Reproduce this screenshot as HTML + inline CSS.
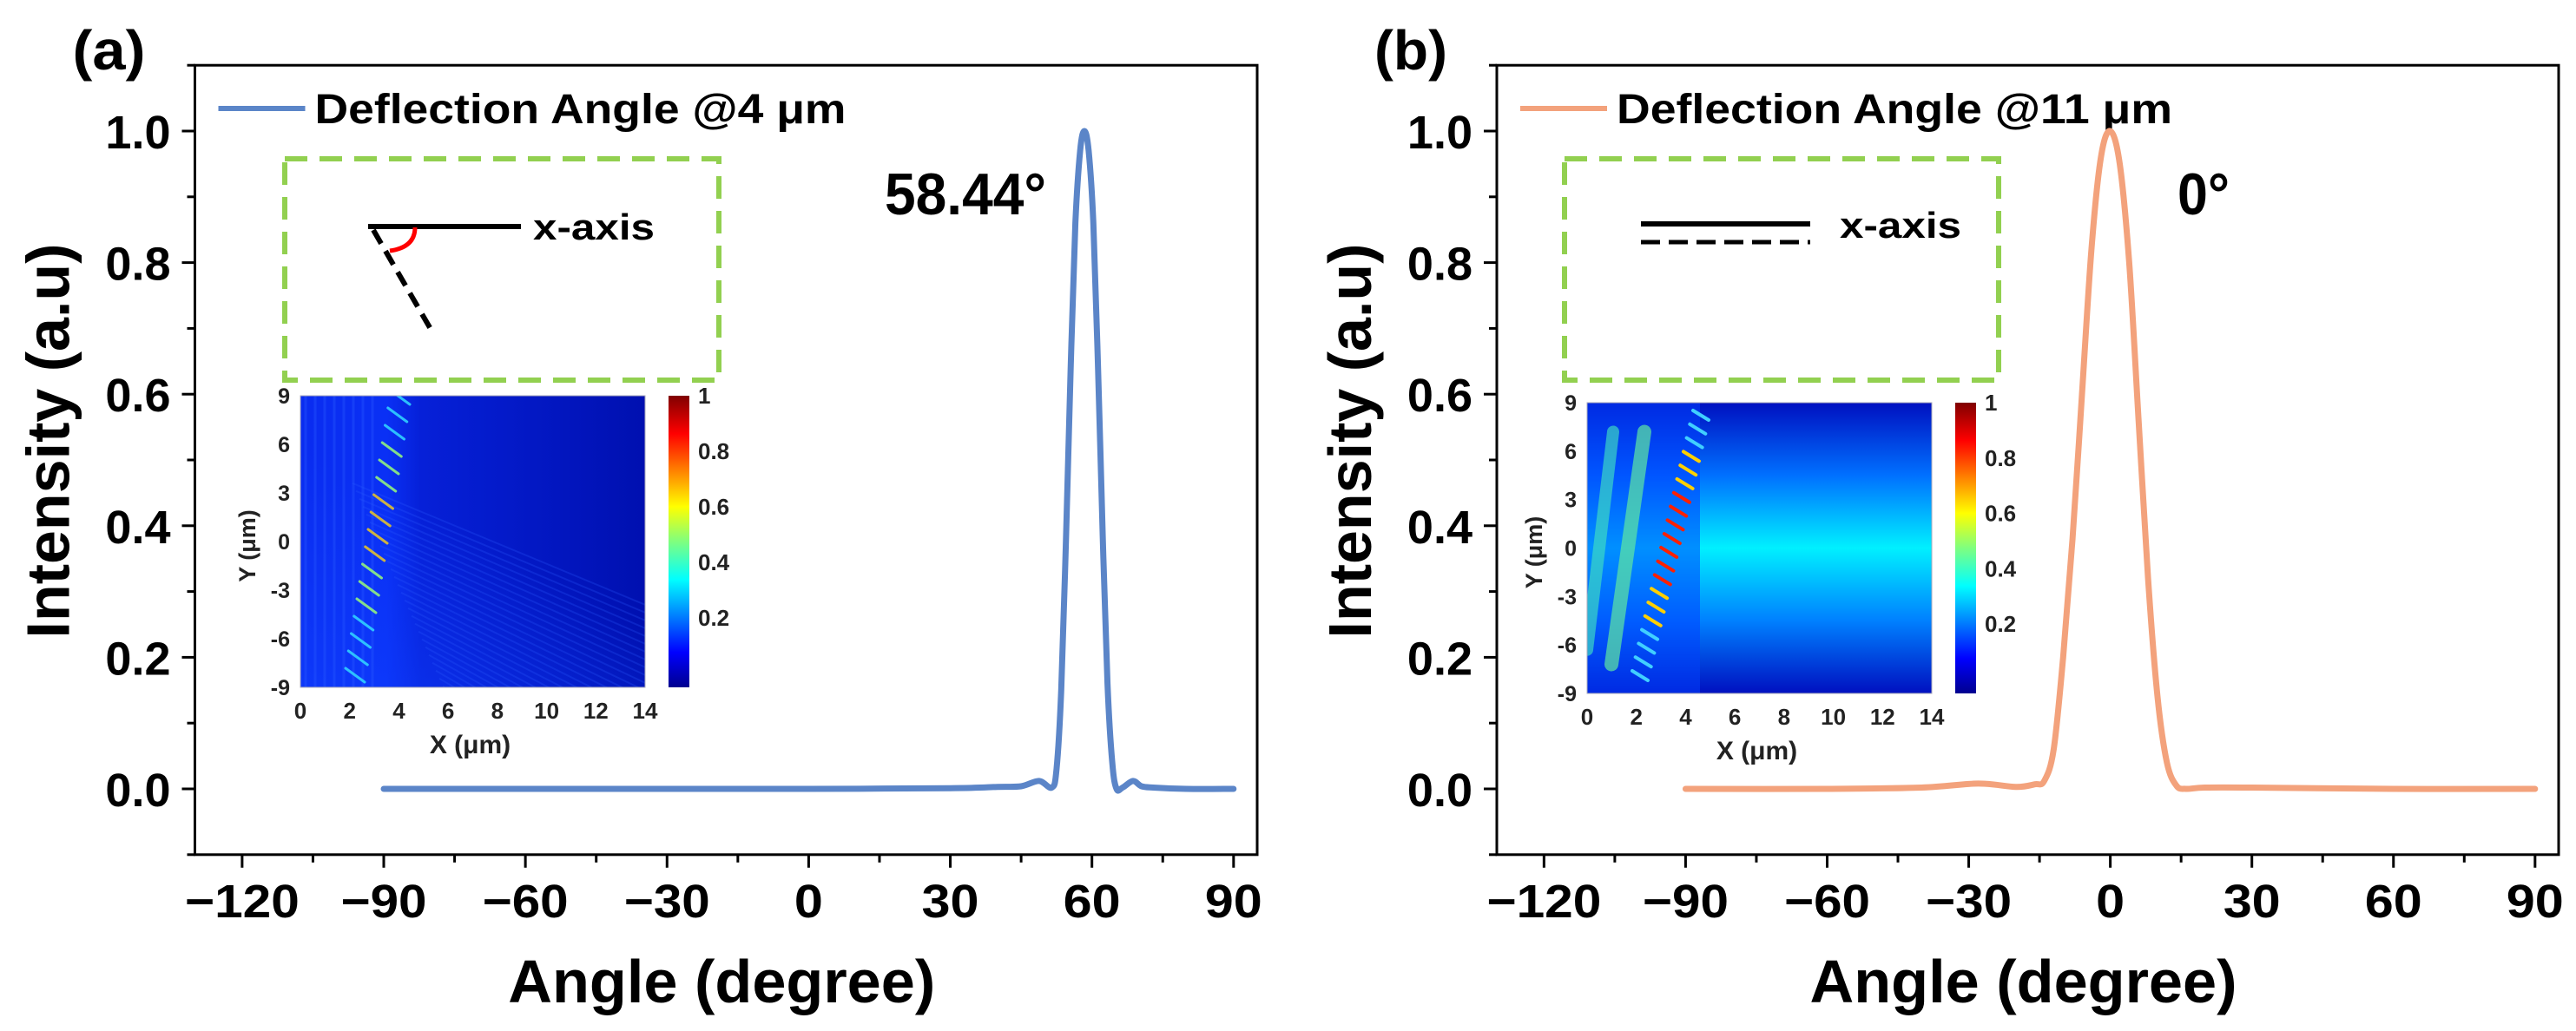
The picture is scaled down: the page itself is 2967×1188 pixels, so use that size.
<!DOCTYPE html>
<html><head><meta charset="utf-8"><style>
html,body{margin:0;padding:0;background:#fff;}
svg{display:block;font-family:"Liberation Sans",sans-serif;font-weight:bold;}
</style></head><body>
<svg id="fig" width="2967" height="1188" viewBox="0 0 2967 1188" xmlns="http://www.w3.org/2000/svg">
<defs>
  <linearGradient id="jet" x1="0" y1="1" x2="0" y2="0">
    <stop offset="0" stop-color="#00008f"/><stop offset="0.12" stop-color="#0000ff"/>
    <stop offset="0.37" stop-color="#00ffff"/><stop offset="0.5" stop-color="#7fff7f"/>
    <stop offset="0.62" stop-color="#ffff00"/><stop offset="0.87" stop-color="#ff0000"/>
    <stop offset="1" stop-color="#800000"/>
  </linearGradient>
  <linearGradient id="hmA" x1="0" y1="0" x2="1" y2="0">
    <stop offset="0" stop-color="#0a2cf0"/><stop offset="0.25" stop-color="#0a30f5"/>
    <stop offset="0.35" stop-color="#0620d8"/><stop offset="1" stop-color="#0010b0"/>
  </linearGradient>
  <linearGradient id="hmAb" x1="0" y1="1" x2="0.6" y2="0">
    <stop offset="0" stop-color="#1040ff" stop-opacity="0.6"/><stop offset="0.6" stop-color="#1040ff" stop-opacity="0"/>
  </linearGradient>
  <linearGradient id="hmB" x1="0" y1="0" x2="0" y2="1">
    <stop offset="0" stop-color="#0010c0"/><stop offset="0.25" stop-color="#0070ff"/>
    <stop offset="0.5" stop-color="#00f0ff"/><stop offset="0.75" stop-color="#0080ff"/>
    <stop offset="1" stop-color="#0010c0"/>
  </linearGradient>
  <linearGradient id="hmBl" x1="0" y1="0" x2="1" y2="0">
    <stop offset="0" stop-color="#0030ff" stop-opacity="0.5"/><stop offset="1" stop-color="#0030ff" stop-opacity="0"/>
  </linearGradient>
</defs>
<g id="root"></g>
</svg>
<script>
// ---- data ----
const anglesA = [-90,-60,-30,0,30,40,45,48.8,51.5,52.5,53.5,54.5,55.5,56.5,57.5,58.4,59.3,60.3,61.3,62.3,63.3,64.3,65.2,66.5,68.7,70.5,73,80,90];
const valuesA = [0,0,0,0,0.001,0.003,0.004,0.012,0.002,0.03,0.15,0.38,0.64,0.86,0.97,1.0,0.97,0.86,0.64,0.38,0.16,0.04,0.0,0.002,0.012,0.004,0.002,0,0];
const anglesB = [-90,-60,-40,-28,-20,-16,-14,-12,-10,-8,-6,-4,-2,0,2,4,6,8,10,12,14,16,20,30,60,90];
const valuesB = [0,0,0.002,0.008,0.003,0.007,0.012,0.06,0.2,0.38,0.6,0.82,0.96,1.0,0.95,0.8,0.56,0.32,0.14,0.04,0.005,0,0.002,0.002,0,0];
const xTicks = [-120,-90,-60,-30,0,30,60,90];
const yTicks = [0.0,0.2,0.4,0.6,0.8,1.0];
const cbTicks = [1,0.8,0.6,0.4,0.2];
const hmXTicks = [0,2,4,6,8,10,12,14];
const hmYTicks = [9,6,3,0,-3,-6,-9];

const NS = "http://www.w3.org/2000/svg";
const root = document.getElementById('root');
function el(tag, attrs, parent, txt){
  const e = document.createElementNS(NS, tag);
  for (const k in attrs) e.setAttribute(k, attrs[k]);
  if (txt !== undefined) e.textContent = txt;
  (parent || root).appendChild(e);
  return e;
}
const Y0 = 909, YPX = 758;
const XMIN = -130, XMAX = 95;

function smoothPath(pts){
  let d = `M${pts[0][0]},${pts[0][1]}`;
  for (let i=0;i<pts.length-1;i++){
    const p0=pts[Math.max(0,i-1)], p1=pts[i], p2=pts[i+1], p3=pts[Math.min(pts.length-1,i+2)];
    const c1=[p1[0]+(p2[0]-p0[0])/6, p1[1]+(p2[1]-p0[1])/6];
    const c2=[p2[0]-(p3[0]-p1[0])/6, p2[1]-(p3[1]-p1[1])/6];
    d += ` C${c1[0].toFixed(1)},${c1[1].toFixed(1)} ${c2[0].toFixed(1)},${c2[1].toFixed(1)} ${p2[0].toFixed(1)},${p2[1].toFixed(1)}`;
  }
  return d;
}

function panel(id, L, R, angles, values, color, letter, legendText, legendLen, annot, annotX, annotLen){
  const g = el('g', {}, root);
  
  
  const xs = v => L + (v - XMIN) / (XMAX - XMIN) * (R - L);
  const ys = v => Y0 - v * YPX;
  const top = ys(1.1), bot = ys(-0.1);

  for (let v = -120; v <= 90; v += 15) {
    const major = xTicks.includes(v);
    const t = el('line', {x1: xs(v), x2: xs(v), y1: bot, y2: bot + (major ? 15 : 9), stroke: '#000', 'stroke-width': 3}, g);
    
    
  }
  xTicks.forEach(v => {
    const s = (v < 0 ? '\u2212' + (-v) : String(v));
    const t = el('text', {x: xs(v), y: bot + 72, 'font-size': 54, 'text-anchor': 'middle', textLength: s.length * 33, lengthAdjust: 'spacingAndGlyphs'}, g, s);
    
    
  });
  for (let k = -1; k <= 11; k++) {
    const v = k / 10;
    const major = Math.abs(k % 2) === 0;
    const t = el('line', {x1: L, x2: L - (major ? 15 : 9), y1: ys(v), y2: ys(v), stroke: '#000', 'stroke-width': 3}, g);
    
    
  }
  yTicks.forEach(v => {
    const t = el('text', {x: L - 28, y: ys(v) + 20, 'font-size': 54, 'text-anchor': 'end'}, g, v.toFixed(1));
    
    
  });
  const fr = el('rect', {x: L, y: top, width: R - L, height: bot - top, fill: 'none', stroke: '#000', 'stroke-width': 3}, g);
  
  

  const xt = el('text', {x: (L + R) / 2 - 5, y: bot + 170, 'font-size': 70, 'text-anchor': 'middle', textLength: 492, lengthAdjust: 'spacingAndGlyphs'}, g, 'Angle (degree)');
  
  
  const cx = L - 170, cy = 508;
  const yt = el('text', {x: cx, y: cy, 'font-size': 70, 'text-anchor': 'middle', transform: `rotate(-90 ${cx} ${cy})`, dy: 25, textLength: 455, lengthAdjust: 'spacingAndGlyphs'}, g, 'Intensity (a.u)');
  
  
  const pl = el('text', {x: L - 141, y: 80, 'font-size': 64, textLength: 84, lengthAdjust: 'spacingAndGlyphs'}, g, letter);
  
  

  const lg = el('g', {}, g);
  
  
  el('line', {x1: L + 27, x2: L + 127, y1: 125, y2: 125, stroke: color, 'stroke-width': 6}, lg);
  el('text', {x: L + 138, y: 142, 'font-size': 48, textLength: legendLen, lengthAdjust: 'spacingAndGlyphs'}, lg, legendText);

  const pts = angles.map((a, i) => [xs(a), ys(values[i])]);
  const c = el('path', {d: smoothPath(pts), fill: 'none', stroke: color, 'stroke-width': 7, 'stroke-linejoin': 'round', 'stroke-linecap': 'round'}, g);
  
  

  const an = el('text', {x: annotX, y: 247, 'font-size': 68, textLength: annotLen, lengthAdjust: 'spacingAndGlyphs'}, g, annot);
  
  
  return g;
}

function inset(g, kind, bx, hx, hy, hw, hh){
  const box = el('rect', {x: bx, y: 183, width: 500, height: 255, fill: 'none', stroke: '#92d050', 'stroke-width': 6, 'stroke-dasharray': '26 14'}, g);
  
  
  const sg = el('g', {}, g);
  
  
  if (kind === 'a') {
    el('line', {x1: bx + 96, x2: bx + 272, y1: 261, y2: 261, stroke: '#000', 'stroke-width': 6}, sg);
    el('line', {x1: bx + 102, x2: bx + 172, y1: 265, y2: 386, stroke: '#000', 'stroke-width': 6, 'stroke-dasharray': '18 10'}, sg);
    el('path', {d: `M${bx+150},262 Q${bx+150},285 ${bx+121},289`, fill: 'none', stroke: '#ff0000', 'stroke-width': 5}, sg);
    el('text', {x: bx + 286, y: 276, 'font-size': 42, textLength: 140, lengthAdjust: 'spacingAndGlyphs'}, sg, 'x-axis');
  } else {
    el('line', {x1: bx + 88, x2: bx + 283, y1: 258, y2: 258, stroke: '#000', 'stroke-width': 6}, sg);
    el('line', {x1: bx + 88, x2: bx + 283, y1: 279, y2: 279, stroke: '#000', 'stroke-width': 5, 'stroke-dasharray': '22 10'}, sg);
    el('text', {x: bx + 317, y: 274, 'font-size': 42, textLength: 140, lengthAdjust: 'spacingAndGlyphs'}, sg, 'x-axis');
  }
  const hg = el('g', {}, g);
  
  
  const clip = 'clip' + kind;
  const cp = el('clipPath', {id: clip}, hg);
  el('rect', {x: hx, y: hy, width: hw, height: hh}, cp);
  const inner = el('g', {'clip-path': `url(#${clip})`}, hg);
  if (kind === 'a') {
    el('rect', {x: hx, y: hy, width: hw, height: hh, fill: 'url(#hmA)'}, inner);
    el('rect', {x: hx, y: hy, width: hw, height: hh, fill: 'url(#hmAb)'}, inner);
    for (let i = 0; i < 40; i++) {
      el('line', {x1: hx + 60 + i * 4, x2: hx + hw, y1: hy + hh * 0.3 + i * 9, y2: hy + hh * 0.3 + i * 9 + 140, stroke: '#2a5cff', 'stroke-opacity': 0.25, 'stroke-width': 2}, inner);
    }
    for (let i = 0; i < 8; i++) {
      el('line', {x1: hx + 6 + i * 11, x2: hx + 6 + i * 11, y1: hy, y2: hy + hh, stroke: '#2a5cff', 'stroke-opacity': 0.35, 'stroke-width': 3}, inner);
    }
    for (let i = 0; i < 17; i++) {
      const t = i / 16;
      const x = hx + 52 + t * 52, y = hy + hh - 10 - t * 320;
      const col = (i > 6 && i < 11) ? '#e0c030' : (i > 3 && i < 14 ? '#90f080' : '#30d0ff');
      el('line', {x1: x, y1: y - 12, x2: x + 22, y2: y + 4, stroke: col, 'stroke-width': 3, 'stroke-linecap': 'round', 'stroke-opacity': 0.9}, inner);
    }
  } else {
    el('rect', {x: hx, y: hy, width: hw, height: hh, fill: 'url(#hmB)'}, inner);
    el('rect', {x: hx, y: hy, width: 130, height: hh, fill: '#0040ff', 'fill-opacity': 0.55}, inner);
    el('line', {x1: hx + 0, y1: hy + hh * 0.85, x2: hx + 30, y2: hy + hh * 0.1, stroke: '#40e0c0', 'stroke-width': 14, 'stroke-opacity': 0.65, 'stroke-linecap': 'round'}, inner);
    el('line', {x1: hx + 28, y1: hy + hh * 0.9, x2: hx + 66, y2: hy + hh * 0.1, stroke: '#60e8a0', 'stroke-width': 16, 'stroke-opacity': 0.7, 'stroke-linecap': 'round'}, inner);
    for (let i = 0; i < 20; i++) {
      const t = i / 19;
      const x = hx + 52 + t * 70, y = hy + hh - 20 - t * 300;
      const col = (i > 6 && i < 14) ? '#ff2000' : (i > 3 && i < 17 ? '#ffd000' : '#40d0ff');
      el('line', {x1: x, y1: y - 6, x2: x + 18, y2: y + 5, stroke: col, 'stroke-width': 4, 'stroke-linecap': 'round'}, inner);
    }
  }
  el('rect', {x: hx, y: hy, width: hw, height: hh, fill: 'none', stroke: '#aab', 'stroke-width': 1}, hg);
  hmYTicks.forEach(v => {
    const t = el('text', {x: hx - 12, y: hy + (9 - v) / 18 * hh + 9, 'font-size': 25, 'text-anchor': 'end', fill: '#222'}, hg, String(v));
    
    
  });
  hmXTicks.forEach(v => {
    const t = el('text', {x: hx + v / 14 * hw, y: hy + hh + 36, 'font-size': 26, 'text-anchor': 'middle', fill: '#222'}, hg, String(v));
    
    
  });
  const hxT = el('text', {x: hx + hw / 2 - 3, y: hy + hh + 76, 'font-size': 30, 'text-anchor': 'middle', fill: '#222'}, hg, 'X (\u03bcm)');
  
  
  const yx = hx - 52, yy = hy + hh / 2 + 5;
  const hyT = el('text', {x: yx, y: yy, 'font-size': 27, 'text-anchor': 'middle', fill: '#222', transform: `rotate(-90 ${yx} ${yy})`}, hg, 'Y (\u03bcm)');
  
  
  const cbx = hx + hw + 27;
  const cb = el('rect', {x: cbx, y: hy, width: 24, height: hh, fill: 'url(#jet)'}, hg);
  
  
  cbTicks.forEach(v => {
    const t = el('text', {x: cbx + 34, y: hy + (1 - v) / 1.05 * hh + 9, 'font-size': 26, fill: '#222'}, hg, String(v));
    
    
  });
}

const gA = panel('a', 224.5, 1448, anglesA, valuesA, '#5b85c8', '(a)', 'Deflection Angle @4 \u03bcm', 612, '58.44\u00b0', 1019, 186);
inset(gA, 'a', 328, 346, 456, 397, 336);
const gB = panel('b', 1724, 2947, anglesB, valuesB, '#f3a27c', '(b)', 'Deflection Angle @11 \u03bcm', 640, '0\u00b0', 2508, 60);
inset(gB, 'b', 1802, 1828, 464, 397, 335);
</script>
</body></html>
